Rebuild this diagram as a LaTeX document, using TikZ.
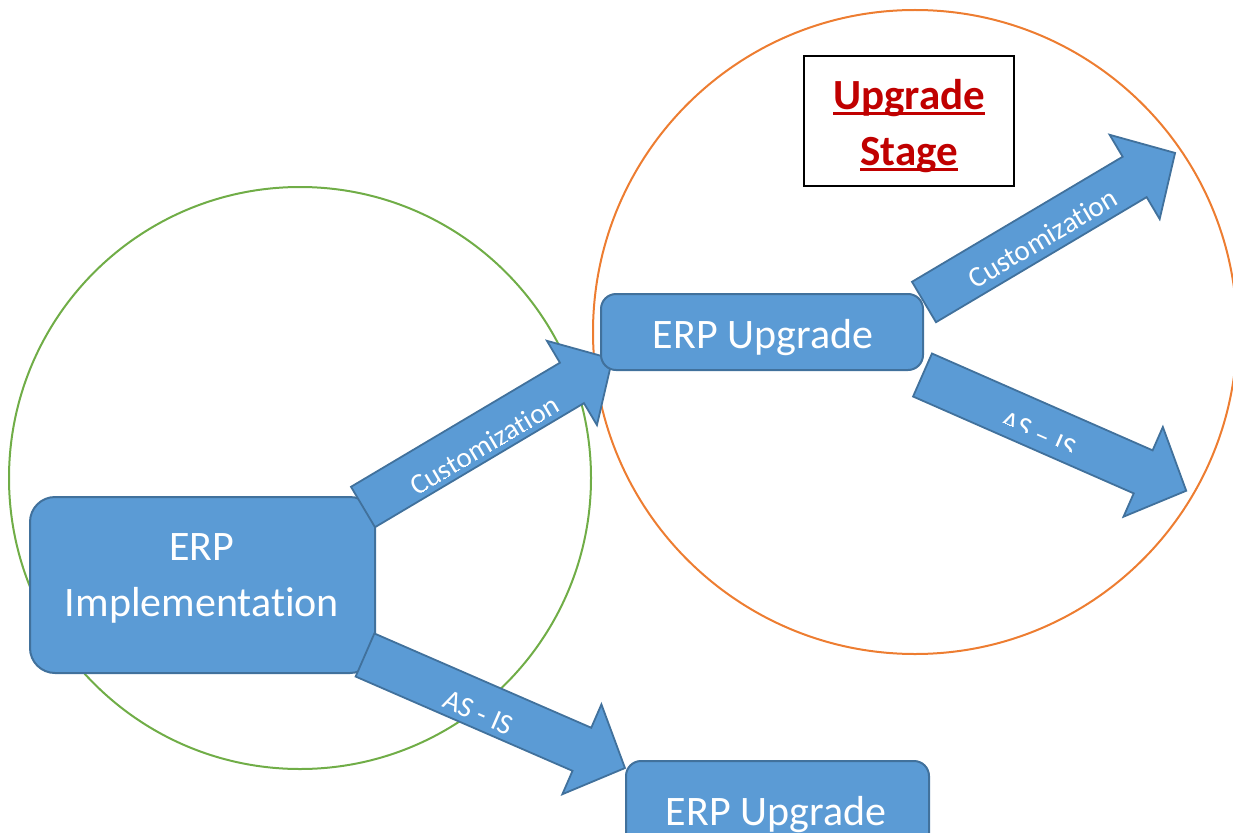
\documentclass[tikz,border=0pt]{standalone}
\usepackage{fontspec}
\setmainfont{Carlito}[Ligatures=NoCommon]
\definecolor{boxblue}{HTML}{5B9BD5}
\definecolor{boxedge}{HTML}{41719C}
\definecolor{cgreen}{HTML}{70AD47}
\definecolor{corange}{HTML}{ED7D31}
\definecolor{cred}{HTML}{C00000}
\newsavebox\ulbox
\newcommand\wordul[1]{\sbox\ulbox{#1}\rlap{\rule[-6pt]{\wd\ulbox}{3pt}}\usebox\ulbox}
% #1 tail, #2 angle, #3 length, #4 label name, #5 label x, #6 label baseline y, #7 clip y, #8 text
\newcommand\blockarrow[8]{%
  \begin{scope}[shift={#1}, rotate=#2]
    \draw[arr] (0,-23.5) -- (#3-47,-23.5) -- (#3-47,-49) -- (#3,0) -- (#3-47,49) -- (#3-47,23.5) -- (0,23.5) -- cycle;
    \begin{scope}
      \clip (0,#7) rectangle (#3,23.5);
      \node[albl,anchor=base] (#4) at (#5,#6) {#8};
    \end{scope}
  \end{scope}}
\begin{document}
\begin{tikzpicture}[x=1pt,y=1pt,
  blk/.style={fill=boxblue,draw=boxedge,line width=2pt,inner sep=0pt},
  btxt/.style={text=white,font=\fontsize{42}{56}\selectfont,align=center,inner sep=0pt},
  arr/.style={fill=boxblue,draw=boxedge,line width=1.8pt,line join=miter},
  albl/.style={text=white,font=\fontsize{29}{32}\selectfont,inner sep=0pt,transform shape}]
\useasboundingbox (0,0) rectangle (1233,-832);
\clip (0,0) rectangle (1233,-832);
% circles
\draw[cgreen,line width=2pt] (300,-478) circle (291);
\draw[corange,line width=2pt] (915,-332) circle (322);
% implementation box
\node[blk,rounded corners=25pt,minimum width=345,minimum height=176] (impl) at (202.5,-585) {};
\node[btxt] (impltxt) at (202,-578) {ERP\\Implementation};
% arrows from implementation
\blockarrow{(363,-507)}{30.7}{290}{a1}{136}{-19}{-17}{Customization}
\blockarrow{(365,-655)}{-23.5}{283.5}{a2}{127}{-17}{-23.5}{AS - IS}
% upgrade boxes
\node[blk,rounded corners=15pt,minimum width=322,minimum height=76] (up1) at (762,-332) {};
\node[btxt] (up1txt) at (763,-338) {ERP Upgrade};
\node[blk,rounded corners=15pt,minimum width=303,minimum height=100] (up2) at (777.5,-811) {};
\node[btxt] (up2txt) at (776,-815) {ERP Upgrade};
% arrows from upgrade
\blockarrow{(924,-302)}{30.7}{292}{a3}{135}{-15.5}{-23.5}{Customization}
\blockarrow{(922.5,-375)}{-23.7}{288}{a4}{130}{-17}{-11}{AS -- IS}
% stage label
\node[draw=black,line width=2pt,fill=white,minimum width=210,minimum height=130,inner sep=0pt] (stage) at (909,-121) {};
\node[text=cred,font=\bfseries\fontsize{43}{56}\selectfont,align=center,inner sep=0pt] (stagetxt) at (909,-126)
  {\wordul{Upgrade}\\\wordul{Stage}};
\end{tikzpicture}
\end{document}
